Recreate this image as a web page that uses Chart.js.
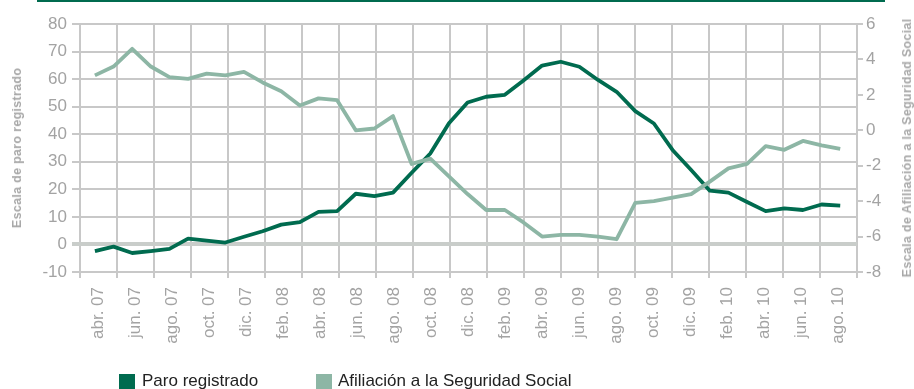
<!DOCTYPE html>
<html lang="es">
<head>
<meta charset="UTF-8">
<title>Paro registrado y afiliación a la Seguridad Social</title>
<script src="https://cdn.jsdelivr.net/npm/chart.js"></script>
<style>
  body { margin: 0; background: #fff; }
  .wrap { position: relative; width: 914px; height: 389px; overflow: hidden; font-family: "Liberation Sans", Arial, sans-serif; }
  .topline { position: absolute; left: 37px; width: 848px; top: 0; height: 2px; background: #006b4f; }
  canvas { position: absolute; left: 0; top: 0; }
  .axis-title { position: absolute; white-space: nowrap; font-size: 12.5px; font-weight: bold; letter-spacing: 0.3px;
                line-height: 14px; color: #a8a8a8; transform: translate(-50%, -50%) rotate(-90deg); }
  .legend-item { position: absolute; top: 371px; font-size: 17px; line-height: 20px; color: #222; white-space: nowrap; }
  .legend-item i { position: absolute; top: 3px; width: 16px; height: 16px; }
</style>
</head>
<body>
<div class="wrap">
  <div class="topline"></div>
  <canvas id="chart" width="914" height="389"></canvas>
  <div class="axis-title" style="left:17px; top:148px;">Escala de paro registrado</div>
  <div class="axis-title" style="left:907px; top:148px;">Escala de Afiliación a la Seguridad Social</div>
  <div class="legend-item" style="left:119px;"><i style="left:0; background:#006b4f;"></i><span style="margin-left:23px;">Paro registrado</span></div>
  <div class="legend-item" style="left:316px;"><i style="left:0; background:#8db6a5;"></i><span style="margin-left:22px;">Afiliación a la Seguridad Social</span></div>
</div>
<script>
  // tick labels, one every two months
  const tickLabels = ['abr. 07', 'jun. 07', 'ago. 07', 'oct. 07', 'dic. 07', 'feb. 08', 'abr. 08',
    'jun. 08', 'ago. 08', 'oct. 08', 'dic. 08', 'feb. 09', 'abr. 09', 'jun. 09', 'ago. 09',
    'oct. 09', 'dic. 09', 'feb. 10', 'abr. 10', 'jun. 10', 'ago. 10'];

  // monthly values, abr. 07 to ago. 10
  const paroRegistrado = [-2.4, -0.8, -3.1, -2.4, -1.6, 2.1, 1.4, 0.7, 2.8, 4.8,
    7.2, 8.1, 11.8, 12.1, 18.4, 17.5, 18.8, 26.0, 33.0, 44.0,
    51.5, 53.6, 54.3, 59.5, 64.9, 66.3, 64.5, 59.7, 55.4, 48.4,
    43.9, 34.3, 27.0, 19.5, 18.8, 15.4, 12.1, 13.1, 12.5, 14.5, 14.1];

  const afiliacion = [3.1, 3.6, 4.6, 3.6, 3.0, 2.9, 3.2, 3.1, 3.3, 2.7,
    2.2, 1.4, 1.8, 1.7, 0.0, 0.1, 0.8, -1.9, -1.6, -2.6,
    -3.6, -4.5, -4.5, -5.2, -6.0, -5.9, -5.9, -6.0, -6.15, -4.1,
    -4.0, -3.8, -3.6, -2.9, -2.15, -1.9, -0.9, -1.1, -0.6, -0.85, -1.05];

  const gridColor = '#c8c8c8';
  const tickColor = '#a3a3a3';
  const tickFont = { family: 'Liberation Sans', size: 17 };

  const toPoints = arr => arr.map((v, i) => ({ x: i, y: v }));

  new Chart(document.getElementById('chart'), {
    type: 'line',
    data: {
      datasets: [
        {
          label: 'Paro registrado',
          data: toPoints(paroRegistrado),
          xAxisID: 'xm',
          yAxisID: 'y',
          borderColor: '#006b4f',
          borderWidth: 3.8,
          borderJoinStyle: 'round',
          pointRadius: 0,
          tension: 0,
          order: 1
        },
        {
          label: 'Afiliación a la Seguridad Social',
          data: toPoints(afiliacion),
          xAxisID: 'xm',
          yAxisID: 'y1',
          borderColor: '#8db6a5',
          borderWidth: 3.8,
          borderJoinStyle: 'round',
          pointRadius: 0,
          tension: 0,
          order: 0
        }
      ]
    },
    options: {
      responsive: false,
      animation: false,
      layout: { padding: { top: 24, left: 0, right: 0, bottom: 0 } },
      plugins: { legend: { display: false }, tooltip: { enabled: false } },
      scales: {
        x: {
          type: 'category',
          labels: tickLabels,
          offset: true,
          grid: { offset: true, color: gridColor, lineWidth: 2, tickLength: 6 },
          border: { display: false },
          ticks: { minRotation: 90, maxRotation: 90, autoSkip: false, color: tickColor, font: tickFont, padding: 9 },
          afterFit: s => { s.height = 117; }
        },
        xm: { type: 'linear', display: false, min: -0.8, max: 40.9 },
        y: {
          position: 'left',
          min: -10,
          max: 80,
          ticks: { stepSize: 10, color: tickColor, font: tickFont, padding: 5 },
          grid: {
            color: ctx => ctx.tick && ctx.tick.value === 0 ? '#c9cdca' : gridColor,
            lineWidth: ctx => ctx.tick && ctx.tick.value === 0 ? 4 : 2,
            tickLength: 8
          },
          border: { display: false },
          afterFit: s => { s.width = 80; }
        },
        y1: {
          position: 'right',
          min: -8,
          max: 6,
          ticks: { stepSize: 2, color: tickColor, font: tickFont, padding: 3 },
          grid: { drawOnChartArea: false, color: gridColor, lineWidth: 2, tickLength: 6 },
          border: { display: false },
          afterFit: s => { s.width = 57; }
        }
      }
    }
  });
</script>
</body>
</html>
